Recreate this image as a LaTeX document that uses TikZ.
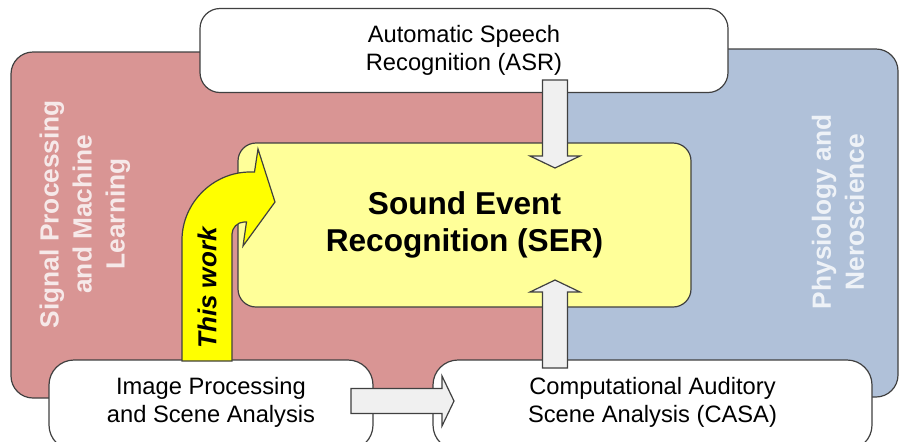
\documentclass[tikz,border=0pt]{standalone}
\usepackage{fontspec}
\setmainfont{Liberation Sans}
\usepackage{tikz}
\usetikzlibrary{calc}
\definecolor{rouge_clair}{HTML}{D99594}
\definecolor{bleu_clair}{HTML}{B0C1D9}
\definecolor{jaune_clair}{HTML}{FFFF99}
\definecolor{jaune_vif}{HTML}{FFFF00}
\definecolor{gris_fleche}{HTML}{F0F0F0}
\definecolor{bord}{HTML}{404040}
\definecolor{texte_rouge}{HTML}{F6E9E9}
\definecolor{texte_bleu}{HTML}{EEF2F7}
\newcommand{\policeboite}{\fontsize{11.85pt}{14pt}\selectfont}
\newcommand{\policeser}{\bfseries\fontsize{15.8pt}{18.5pt}\selectfont}
\newcommand{\policedomaine}{\bfseries\fontsize{13.15pt}{16.5pt}\selectfont}
% Flèche épaisse grise entre deux points nommés
\newcommand{\flechebloc}[2]{%
  \path ($(#2)!6pt!(#1)$) coordinate (base);
  \draw[flechegrise] ($(#1)!6.25pt!90:(#2)$) -- ($(base)!6.25pt!90:(#2)$) -- ($(base)!12.5pt!90:(#2)$) -- (#2)
    -- ($(base)!12.5pt!-90:(#2)$) -- ($(base)!6.25pt!-90:(#2)$) -- ($(#1)!6.25pt!-90:(#2)$) -- cycle;
}

\begin{document}
\begin{tikzpicture}[scale=1,x=0.5pt,y=-0.5pt,>=stealth,
    cadre/.style={draw=bord, line width=0.6pt},
    flechegrise/.style={cadre, fill=gris_fleche},
    domaine/.style={rotate=90, align=center, font=\policedomaine}]

        % Cadre de l'image
        \clip (0,0) rectangle (899,441);

        % Définir les extrémités des flèches grises
        \coordinate (asr_bas) at (555,80);
        \coordinate (ser_haut) at (555,168);
        \coordinate (casa_haut) at (555,368);
        \coordinate (ser_bas) at (555,280);
        \coordinate (ip_droite) at (351,401);
        \coordinate (casa_gauche) at (454,401);

        % Dessiner les deux domaines en arrière-plan
        \draw[cadre, fill=bleu_clair, rounded corners=11pt] (540,49) rectangle (898,397);
        \draw[cadre, fill=rouge_clair, rounded corners=11pt] (11,52) rectangle (556,398);

        % Titres des domaines
        \node[domaine, text=texte_rouge] (spml) at (85,214) {Signal Processing\\and Machine\\Learning};
        \node[domaine, text=texte_bleu] (physio) at (838,212) {Physiology and\\Neroscience};

        % Boîte ASR en haut
        \node[cadre, fill=white, rounded corners=10pt, minimum width=264pt, minimum height=42pt,
            align=center, font=\policeboite] (asr) at (464,50.5) {Automatic Speech\\Recognition (ASR)};

        % Boîte centrale SER
        \node[cadre, fill=jaune_clair, rounded corners=9pt, minimum width=226.5pt, minimum height=82pt,
            align=center, font=\policeser] (ser) at (464.5,225) {Sound Event\\Recognition (SER)};

        % Boîtes du bas (coupées par le bord)
        \draw[cadre, fill=white, rounded corners=12.5pt] (49,360) rectangle (373,450);
        \node[align=center, font=\policeboite] (ip) at (211,402) {Image Processing\\and Scene Analysis};
        \draw[cadre, fill=white, rounded corners=12.5pt] (433,360) rectangle (872,450);
        \node[align=center, font=\policeboite] (casa) at (652.5,402) {Computational Auditory\\Scene Analysis (CASA)};

        % Flèche courbe jaune
        \draw[cadre, fill=jaune_vif] (182,361) -- (182,240) .. controls (182,203) and (213,172) .. (250,172)
            -- (254.5,172) -- (258,149) -- (275,202) -- (243,246) -- (246.5,222) -- (244,222)
            .. controls (237.4,222) and (232,228) .. (232,234) -- (232,361) -- cycle;
        \node[rotate=90, font=\bfseries\itshape\fontsize{13pt}{15pt}\selectfont] (travail) at (207,288) {This work};

        % Flèches grises entre les boîtes
        \flechebloc{asr_bas}{ser_haut}
        \flechebloc{casa_haut}{ser_bas}
        \flechebloc{ip_droite}{casa_gauche}
    \end{tikzpicture}
\end{document}
